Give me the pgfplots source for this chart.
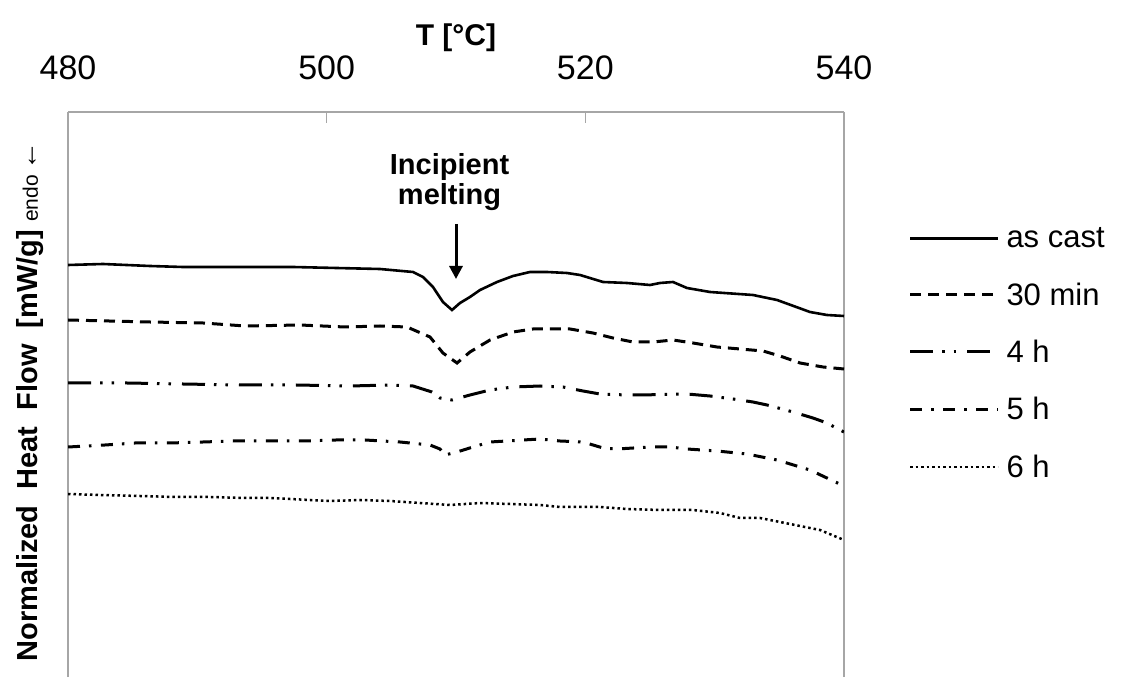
\documentclass[border=0pt]{standalone}
\usepackage{fontspec}
\setmainfont{Liberation Sans}
\usepackage{pgfplots}
\pgfplotsset{compat=1.18}
\usetikzlibrary{arrows.meta}

\begin{document}
\begin{tikzpicture}
\begin{axis}[
  at={(68pt,0pt)}, anchor=south west,
  scale only axis, width=776pt, height=565pt,
  xmin=480, xmax=540, ymin=0, ymax=5.65,
  axis x line=top, axis y line=box,
  axis line style={-, draw=gray!70, line width=1.8pt},
  xtick={480,500,520,540},
  ytick=\empty,
  xtick align=inside,
  major tick length=11pt,
  every tick/.style={draw=gray!70, line width=1.2pt},
  /pgf/number format/assume math mode=true,
  /pgf/number format/1000 sep={},
  xticklabel style={font=\fontsize{34}{40}\selectfont, anchor=base, yshift=32pt},
  xlabel={\bfseries T [°C]},
  xlabel style={font=\fontsize{30}{36}\selectfont, at={(axis description cs:0.5,1)}, anchor=base, yshift=66pt},
  ylabel={{\bfseries Normalized\ \ Heat\ \ Flow\ \ [mW/g]}\ {\fontsize{21}{24}\selectfont endo}\,←},
  ylabel style={font=\fontsize{29}{34}\selectfont, at={(axis description cs:-0.0387,0.021)}, anchor=base west},
  legend style={at={(axis description cs:1.079,0.803)}, anchor=north west, draw=none, fill=none,
    font=\fontsize{31}{36}\selectfont, row sep=29.5pt, column sep=5pt, legend cell align=left},
  legend image code/.code={\draw[#1] (0pt,0pt) -- (88pt,0pt);},
]
\addplot[black, line width=2.6pt] coordinates {
(480.00,4.12) (482.71,4.13) (486.34,4.11) (488.89,4.10) (497.40,4.10) (504.12,4.08)
(506.68,4.05) (507.45,4.00) (508.22,3.90) (508.99,3.75) (509.69,3.67) (510.31,3.74)
(511.08,3.80) (511.86,3.87) (513.17,3.95) (514.41,4.01) (515.72,4.05) (517.04,4.05)
(518.58,4.04) (519.59,4.02) (521.37,3.95) (523.22,3.94) (525.00,3.92) (525.77,3.94)
(526.78,3.95) (527.86,3.89) (529.64,3.85) (532.96,3.82) (534.82,3.77) (537.37,3.65)
(538.68,3.62) (540.00,3.61)};
\addlegendentry{as cast}
\addplot[black, line width=3pt, dash pattern=on 11pt off 7pt] coordinates {
(480.00,3.57) (486.34,3.55) (490.44,3.54) (493.69,3.51) (497.94,3.52) (501.42,3.50)
(504.12,3.51) (506.21,3.50) (507.99,3.40) (508.99,3.24) (510.08,3.14) (511.08,3.25)
(512.63,3.37) (514.41,3.45) (515.95,3.48) (517.50,3.48) (518.82,3.48) (520.59,3.44)
(522.14,3.39) (523.69,3.35) (525.23,3.35) (526.78,3.37) (528.32,3.34) (530.18,3.30)
(531.96,3.28) (533.74,3.26) (535.05,3.21) (536.60,3.14) (538.38,3.10) (540.00,3.08)};
\addlegendentry{30 min}
\addplot[black, line width=3pt, dash pattern=on 23pt off 9pt on 2.5pt off 9pt on 2.5pt off 11pt] coordinates {
(480.00,2.94) (484.56,2.94) (488.89,2.93) (493.30,2.92) (497.63,2.92) (501.80,2.91)
(504.90,2.92) (506.68,2.91) (508.14,2.85) (508.76,2.79) (509.69,2.77) (511.08,2.82)
(512.63,2.87) (514.41,2.90) (516.50,2.91) (518.27,2.90) (519.82,2.86) (521.13,2.83)
(523.22,2.82) (524.23,2.82) (527.86,2.83) (529.64,2.81) (531.42,2.78) (532.96,2.75)
(534.05,2.72) (536.06,2.65) (537.60,2.59) (538.68,2.54) (539.69,2.47) (540.00,2.45)};
\addlegendentry{4 h}
\addplot[black, line width=3pt, dash pattern=on 12pt off 9pt on 2.5pt off 9.5pt] coordinates {
(480.00,2.30) (482.86,2.32) (485.18,2.34) (487.89,2.34) (490.44,2.35) (492.76,2.36)
(495.62,2.36) (498.33,2.36) (500.72,2.37) (502.96,2.37) (505.67,2.35) (507.99,2.32)
(508.76,2.28) (509.15,2.22) (510.08,2.25) (511.31,2.30) (512.63,2.35) (515.18,2.37)
(516.50,2.38) (518.04,2.36) (519.82,2.35) (521.37,2.29) (522.45,2.28) (525.00,2.30)
(526.55,2.30) (527.86,2.28) (530.18,2.26) (532.50,2.23) (534.82,2.17) (537.37,2.07)
(538.68,1.99) (540.00,1.91)};
\addlegendentry{5 h}
\addplot[black, line width=2.5pt, dash pattern=on 2.5pt off 3pt] coordinates {
(480.00,1.83) (482.47,1.82) (485.57,1.81) (488.27,1.80) (490.98,1.80) (493.69,1.79)
(495.62,1.79) (500.26,1.76) (502.58,1.77) (504.90,1.76) (507.22,1.74) (509.54,1.72)
(511.86,1.74) (514.18,1.73) (516.50,1.72) (518.04,1.70) (521.13,1.70) (523.22,1.68)
(525.77,1.67) (528.32,1.67) (530.41,1.64) (531.96,1.59) (533.51,1.59) (535.05,1.55)
(536.60,1.51) (538.14,1.47) (540.00,1.37)};
\addlegendentry{6 h}
\node[font=\bfseries\fontsize{29}{34}\selectfont, anchor=base] at (axis cs:509.5,5.02) {Incipient};
\node[font=\bfseries\fontsize{29}{34}\selectfont, anchor=base] at (axis cs:509.5,4.72) {melting};
\draw[black, line width=3pt, -{Triangle[length=13pt,width=13pt]}] (axis cs:510.0,4.53) -- (axis cs:510.0,3.98);
\end{axis}
\pgfresetboundingbox
\path (0pt,0pt) rectangle (1123pt,677pt);
\end{tikzpicture}
\end{document}
